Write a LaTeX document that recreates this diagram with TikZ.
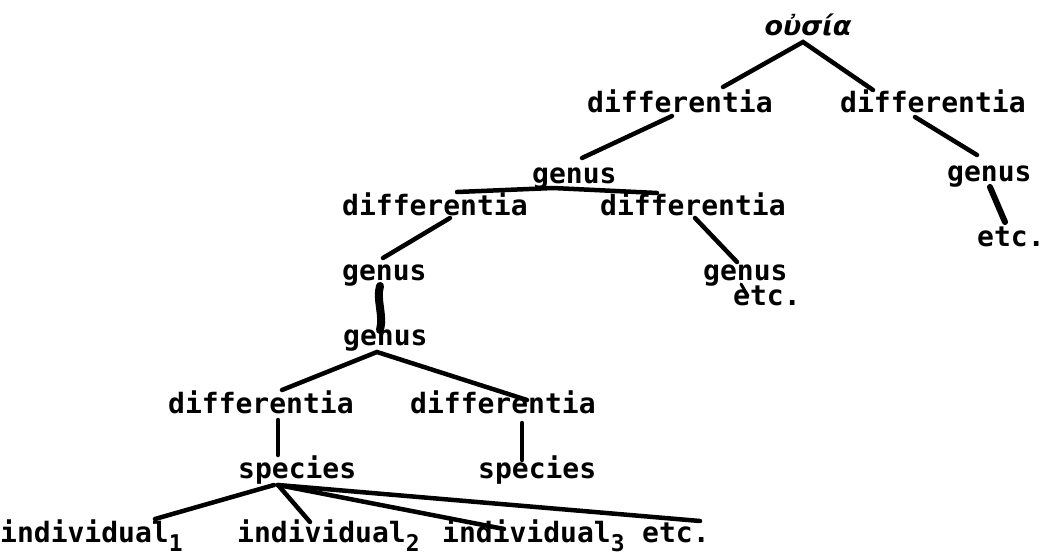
\documentclass[tikz,border=0pt]{standalone}
\usepackage{fontspec}
\setmainfont{DejaVu Sans}
\setmonofont{DejaVu Sans Mono}
\usetikzlibrary{calc}
\newcommand{\idx}[1]{\raisebox{-9pt}{\fontsize{23}{23}\selectfont #1}}
\begin{document}
\begin{tikzpicture}[x=1pt,y=-1pt,
  lbl/.style={anchor=base west, inner sep=0pt, font=\ttfamily\bfseries\fontsize{28}{30}\selectfont},
  greek/.style={anchor=center, inner sep=0pt, font=\bfseries\itshape\fontsize{27}{28}\selectfont},
  conn/.style={line width=4.5pt, line cap=round},
  heavy/.style={line width=8pt, line cap=round}]
\useasboundingbox (0,0) rectangle (1044,557);
% labels
\node[greek] (ousia) at (808,25) {οὐσία};
\node[lbl] (d1L) at (587,112) {differentia};
\node[lbl] (d1R) at (840,112) {differentia};
\node[lbl] (g2M) at (532,183) {genus};
\node[lbl] (g2R) at (947,181) {genus};
\node[lbl] (eR)  at (977,246) {etc.};
\node[lbl] (d3L) at (342,215) {differentia};
\node[lbl] (d3R) at (600,215) {differentia};
\node[lbl] (g4L) at (342,280) {genus};
\node[lbl] (g4R) at (703,280) {genus};
\node[lbl] (e4R) at (733,305) {etc.};
\node[lbl] (g5)  at (343,345) {genus};
\node[lbl] (d6L) at (168,413) {differentia};
\node[lbl] (d6R) at (410,413) {differentia};
\node[lbl] (s7L) at (238,478) {species};
\node[lbl] (s7R) at (478,478) {species};
\node[lbl] (i1)  at (0,542) {individual\idx{1}};
\node[lbl] (i2)  at (237,542) {individual\idx{2}};
\node[lbl] (i3)  at (442,542) {individual\idx{3}};
\node[lbl] (e8)  at (642,542) {etc.};
% connectors
\draw[conn] ([shift={(136,-25)}]d1L.base west) -- ([shift={(-5,17)}]ousia.center) -- ([shift={(33,-22)}]d1R.base west);
\draw[conn] ([shift={(85,4)}]d1L.base west) -- ([shift={(50,-25)}]g2M.base west);
\draw[conn] ([shift={(115,-23)}]d3L.base west) -- ([shift={(21,5)}]g2M.base west) -- ([shift={(57,-22)}]d3R.base west);
\draw[conn] ([shift={(108,3)}]d3L.base west) -- ([shift={(41,-22)}]g4L.base west);
\draw[conn] ([shift={(95,3)}]d3R.base west) -- ([shift={(34,-18)}]g4R.base west);
\draw[conn, line width=3pt] ([shift={(38,4)}]g4R.base west) -- ([shift={(15,-9)}]e4R.base west);
\draw[heavy] ([shift={(38,6)}]g4L.base west) .. controls ([shift={(34,20)}]g4L.base west) and ([shift={(41,-30)}]g5.base west) .. ([shift={(37,-15)}]g5.base west);
\draw[conn] ([shift={(114,-23)}]d6L.base west) -- ([shift={(34,7)}]g5.base west) -- ([shift={(117,-13)}]d6R.base west);
\draw[conn] ([shift={(110,7)}]d6L.base west) -- ([shift={(40,-23)}]s7L.base west);
\draw[conn] ([shift={(112,10)}]d6R.base west) -- ([shift={(44,-18)}]s7R.base west);
\draw[conn] ([shift={(36,7)}]s7L.base west) -- ([shift={(155,-23)}]i1.base west);
\draw[conn] ([shift={(40,7)}]s7L.base west) -- ([shift={(73,-20)}]i2.base west);
\draw[conn] ([shift={(40,7)}]s7L.base west) -- ([shift={(62,-13)}]i3.base west);
\draw[conn] ([shift={(40,7)}]s7L.base west) -- ([shift={(58,-21)}]e8.base west);
\draw[conn] ([shift={(75,5)}]d1R.base west) -- ([shift={(30,-26)}]g2R.base west);
\draw[heavy, line width=6pt] ([shift={(43,6)}]g2R.base west) -- ([shift={(28,-24)}]eR.base west);
\end{tikzpicture}
\end{document}
